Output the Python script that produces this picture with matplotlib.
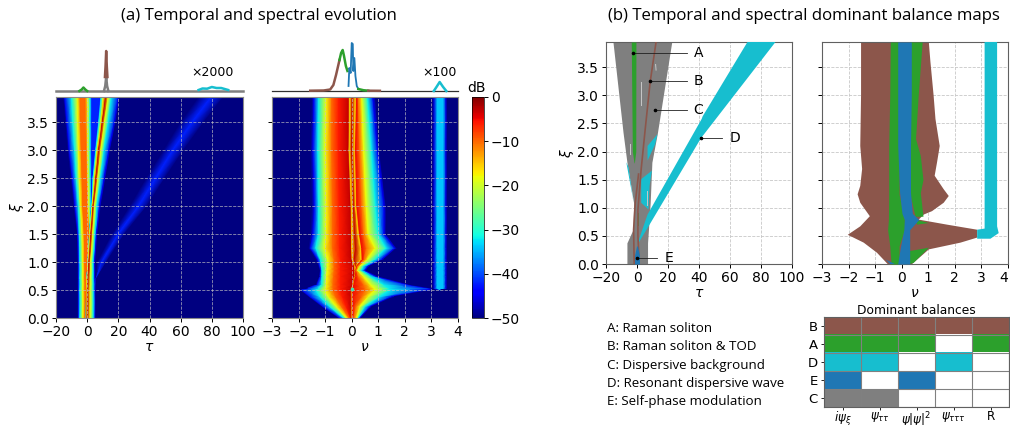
import matplotlib
matplotlib.use('Agg')
import matplotlib.pyplot as plt
import numpy as np

W, H = 1010, 425
brown, green, cyan, blue, grey = '#8c564b', '#2ca02c', '#17becf', '#1f77b4', '#7f7f7f'

# ---- (a) time map: every row gives the tau where each dB level is reached
xi_time = [0.0, 0.5, 0.7, 1.0, 1.5, 2.0, 2.5, 3.0, 3.5, 3.95]
db_time = [-50, -50, -45, -32, -18, -10, -10, -18, -32, -42, -42, -32, -18, -3, -18, -32, -45, -50, -50, -42, -50, -50]
tau_time = [
    [-20, -6.0, -5.6, -4.6, -2.8, -1.3, -0.5, -0.5, -0.5, -0.5, -0.5, -0.5, -0.5, 0.0, 2.0, 4.0, 5.2, 5.8, 5.9, 5.9, 5.9, 100],
    [-20, -6.0, -5.6, -4.6, -2.8, -1.3, -0.4, -0.4, -0.4, -0.4, -0.4, -0.4, -0.4, 0.1, 2.0, 4.0, 5.2, 5.8, 5.9, 5.9, 5.9, 100],
    [-20, -6.0, -5.6, -4.6, -2.8, -1.4, -0.1, -0.1, -0.1, -0.1, -0.1, -0.1, -0.1, 0.4, 2.1, 3.9, 5.0, 5.6, 5.6, 5.7, 5.8, 100],
    [-20, -6.0, -5.6, -4.6, -2.9, -1.5, 0.5, 0.6, 0.6, 0.6, 0.6, 0.6, 0.6, 1.2, 2.3, 3.8, 4.8, 5.5, 6.5, 9.4, 12.5, 100],
    [-20, -6.5, -6.0, -5.0, -3.2, -1.8, 1.3, 1.6, 1.6, 1.6, 1.6, 1.6, 1.6, 2.5, 3.6, 5.0, 6.0, 6.8, 16.0, 20.0, 24.0, 100],
    [-20, -8.7, -7.7, -5.6, -4.2, -2.8, 0.2, 1.0, 2.3, 3.0, 3.0, 3.0, 3.2, 3.8, 4.8, 6.3, 8.0, 9.0, 27.5, 33.0, 38.5, 100],
    [-20, -10.5, -9.5, -7.0, -5.0, -3.2, -0.2, 0.6, 2.1, 3.0, 3.6, 3.8, 4.6, 5.7, 6.9, 8.6, 11.0, 12.0, 38.0, 44.0, 50.0, 100],
    [-20, -12.5, -11.5, -8.0, -5.5, -3.7, -0.6, 0.4, 2.0, 3.0, 5.0, 5.6, 6.4, 7.4, 8.8, 10.8, 14.0, 15.0, 49.0, 55.0, 62.0, 100],
    [-20, -14.0, -13.0, -9.2, -6.0, -4.2, -1.0, 0.3, 1.9, 3.0, 7.0, 7.5, 8.8, 9.8, 11.2, 13.5, 17.5, 18.5, 60.0, 67.5, 75.0, 100],
    [-20, -15.3, -14.4, -10.0, -6.3, -4.5, -1.3, 0.2, 1.9, 3.0, 8.4, 9.0, 10.4, 11.9, 13.5, 15.5, 20.0, 21.0, 71.6, 79.6, 87.6, 100],
]

# ---- (a) spectrum map: same idea with nu
xi_spec = [0.0, 0.2, 0.38, 0.5, 0.53, 0.6, 0.75, 0.85, 0.92, 1.05, 1.25, 1.5, 2.0, 3.0, 3.95]
db_spec = [-50, -50, -45, -32, -18, -10, -6, -3, -16, -3, -16, -5, -10, -18, -32, -45, -50, -50, -46, -34, -34, -46, -50, -50]
nu_spec = [
    [-3, -0.50, -0.44, -0.29, -0.19, -0.09, -0.04, -0.02, -0.01, 0.0, 0.01, 0.02, 0.09, 0.19, 0.25, 0.31, 0.35, 3.35, 3.35, 3.35, 3.35, 3.35, 3.35, 4],
    [-3, -1.12, -1.06, -0.81, -0.56, -0.37, -0.20, -0.02, -0.01, 0.0, 0.01, 0.02, 0.16, 0.31, 0.50, 0.69, 0.75, 3.35, 3.35, 3.35, 3.35, 3.35, 3.35, 4],
    [-3, -1.62, -1.56, -1.19, -0.87, -0.60, -0.35, -0.02, -0.01, 0.0, 0.01, 0.02, 0.38, 0.62, 1.06, 1.50, 1.60, 3.35, 3.35, 3.35, 3.35, 3.35, 3.35, 4],
    [-3, -1.95, -1.88, -1.35, -1.00, -0.70, -0.42, -0.02, -0.01, 0.0, 0.01, 0.02, 0.50, 0.88, 1.44, 2.90, 3.00, 3.35, 3.35, 3.35, 3.35, 3.35, 3.35, 4],
    [-3, -1.70, -1.65, -1.25, -0.98, -0.70, -0.42, 0.0, 0.01, 0.02, 0.03, 0.04, 0.50, 0.85, 1.40, 3.00, 3.05, 3.06, 3.10, 3.22, 3.44, 3.55, 3.60, 4],
    [-3, -1.35, -1.30, -1.13, -0.96, -0.70, -0.42, 0.04, 0.05, 0.06, 0.07, 0.08, 0.44, 0.70, 1.20, 2.10, 2.20, 3.04, 3.10, 3.22, 3.44, 3.55, 3.60, 4],
    [-3, -1.22, -1.19, -1.12, -0.94, -0.68, -0.42, 0.10, 0.11, 0.12, 0.13, 0.14, 0.25, 0.44, 0.70, 0.90, 1.00, 3.04, 3.10, 3.22, 3.44, 3.55, 3.60, 4],
    [-3, -1.20, -1.17, -1.12, -0.92, -0.66, -0.42, 0.12, 0.13, 0.14, 0.15, 0.16, 0.18, 0.22, 0.38, 0.50, 0.56, 3.04, 3.10, 3.22, 3.44, 3.55, 3.60, 4],
    [-3, -1.25, -1.20, -1.14, -0.90, -0.66, -0.42, 0.09, 0.12, 0.14, 0.16, 0.18, 0.22, 0.30, 0.45, 0.60, 0.66, 3.04, 3.10, 3.22, 3.44, 3.55, 3.60, 4],
    [-3, -1.35, -1.28, -1.18, -0.90, -0.66, -0.42, -0.01, 0.02, 0.10, 0.36, 0.40, 0.48, 0.60, 0.90, 1.15, 1.22, 3.04, 3.10, 3.22, 3.44, 3.55, 3.60, 4],
    [-3, -1.62, -1.55, -1.35, -1.02, -0.72, -0.45, -0.03, 0.0, 0.15, 0.34, 0.38, 0.55, 0.88, 1.30, 1.62, 1.70, 3.04, 3.10, 3.22, 3.44, 3.55, 3.60, 4],
    [-3, -1.55, -1.45, -1.25, -0.97, -0.72, -0.45, -0.03, 0.0, 0.12, 0.25, 0.30, 0.45, 0.62, 1.00, 1.22, 1.30, 3.04, 3.10, 3.22, 3.44, 3.55, 3.60, 4],
    [-3, -1.50, -1.40, -1.25, -0.97, -0.72, -0.47, -0.05, -0.01, 0.07, 0.15, 0.20, 0.38, 0.55, 0.90, 1.22, 1.30, 3.04, 3.10, 3.22, 3.44, 3.55, 3.60, 4],
    [-3, -1.55, -1.45, -1.27, -1.00, -0.75, -0.50, -0.13, -0.09, 0.0, 0.10, 0.15, 0.30, 0.45, 0.75, 0.97, 1.05, 3.04, 3.10, 3.22, 3.44, 3.55, 3.60, 4],
    [-3, -1.50, -1.42, -1.25, -0.97, -0.75, -0.50, -0.12, -0.07, 0.02, 0.14, 0.19, 0.25, 0.38, 0.60, 0.80, 0.90, 3.04, 3.10, 3.22, 3.44, 3.55, 3.60, 4],
]

# ---- top profiles (height in arbitrary units)
tau_base = [-20, 100]
tau_green = [-5, -3.5, -2.4, -1.2, 0]
h_green = [0, 1.5, 3.5, 1.5, 0]
tau_peak = [11.4, 11.8, 12.2, 12.6, 13.0]
h_peak = [14, 25, 40, 25, 14]
tau_peak_low = [10.8, 11.6, 12.2, 12.8, 13.6]
h_peak_low = [0, 5, 14, 5, 0]
tau_dw = [71.5, 74, 77, 80, 83, 86, 90.5]
h_dw = [1, 2.5, 2.3, 4, 3, 3, 1]

nu_brown1 = [-1.56, -1.06, -0.81, -0.69, -0.59, -0.46]
h_brown1 = [0.3, 0.5, 1.5, 6, 16, 31]
nu_green1 = [-0.46, -0.40, -0.34, -0.29, -0.22, -0.16]
h_green1 = [31, 38, 41, 35, 25, 20]
nu_blue1 = [-0.12, -0.09, -0.04, 0.0, 0.04, 0.06, 0.10, 0.14, 0.19, 0.25]
h_blue1 = [5, 23, 18, 48, 47, 20, 33, 15, 5, 2]
nu_green2 = [0.25, 0.44, 0.62]
h_green2 = [2, 0.8, 0.3]
nu_brown2 = [0.62, 1.06]
h_brown2 = [0.3, 0.2]
nu_dw = [3.09, 3.19, 3.31, 3.44, 3.56]
h_dw2 = [0, 4, 9, 4, 0]

# ---- (b) time regions
bg_xi = [0, 0.376, 0.614, 1.09, 1.81, 2.34, 3.95]
bg_left = [-6.5, -6.5, -2.6, -2.2, -6.5, -9.0, -15.5]
bg_right = [6.8, 6.8, 7.4, 8.5, 9.6, 13.2, 22.4]
a_xi = [1.8, 2.0, 3.95]
a_left = [-1.9, -3.0, -3.7]
a_right = [-1.7, -0.8, -0.7]
a2_xi = [0.67, 0.91]
a2_left = [0.8, 0.8]
a2_right = [1.5, 1.5]
b_tau = [1.4, 0.6, 0.6, 2.7, 5.3, 8.5, 12.4]
b_xi = [0, 0.5, 0.97, 1.69, 2.4, 3.24, 3.97]
b2_tau = [-1.8, -2.2, -1.1, 1.0]
b2_xi = [0, 0.61, 1.09, 1.6]
e_xi = [0, 0.15, 0.32]
e_left = [-1.6, -1.6, -0.3]
e_right = [1.6, 1.6, 0.3]
d_tau = [1.0, 6.8, 41.3, 89.9, 71.7, 42.4, 41.7, 6.8, 1.6]
d_xi = [0.376, 0.64, 2.24, 3.97, 3.97, 2.63, 2.58, 0.88, 0.465]
d2_tau = [6.8, 13.2, 11.7, 6.8]
d2_xi = [2.10, 2.31, 2.13, 1.84]
d3_tau = [2.7, 9.6, 8.1, 7.4, 2.7]
d3_xi = [1.51, 1.66, 1.39, 0.97, 1.09]
d4_tau = [-6.9, -5.4, -2.2, -3.3]
d4_xi = [1.81, 1.72, 1.09, 1.27]

fleck_tau = [[2.3, 2.3], [-4.7, -4.7], [12.3, 12.0], [6.3, 6.3]]
fleck_xi = [[2.83, 3.24], [1.96, 2.14], [3.45, 3.55], [1.05, 1.3]]

labels = ['A', 'B', 'C', 'D', 'E']
lab_tau = [-2.6, 8.5, 11.9, 41.3, 0.0]
lab_xi = [3.76, 3.25, 2.74, 2.24, 0.107]
lab_end = [32, 32, 32, 54.6, 13.2]
lab_text = [36.8, 36.5, 36.5, 59.5, 17.7]

# ---- (b) spectral regions
sb_nu = [-1.53, -1.53, -1.56, -1.49, -1.56, -1.66, -1.56, -1.20, -1.56, -2.03, -1.43, -0.93, -0.53, 0.39,
         1.02, 2.21, 2.84, 2.84, 1.71, 0.64, 0.83, 1.14, 1.58, 1.77, 1.58, 1.24, 1.33, 1.43, 1.27, 1.20, 1.08, 1.02]
sb_xi = [3.95, 3.0, 2.1, 1.69, 1.39, 1.24, 1.09, 0.85, 0.67, 0.52, 0.38, 0.20, 0, 0,
         0.26, 0.38, 0.47, 0.61, 0.70, 0.79, 0.88, 0.94, 1.09, 1.21, 1.33, 1.57, 1.81, 2.1, 2.58, 3.0, 3.6, 3.95]
sg_xi = [0, 0.32, 0.61, 0.79, 1.24, 1.57, 2.1, 3.0, 3.95]
sg_left = [-0.40, -0.45, -0.53, -0.50, -0.49, -0.49, -0.49, -0.45, -0.43]
sg_right = [-0.1, -0.1, 0.1, 0.1, -0.1, -0.1, -0.1, -0.1, -0.1]
sg2_xi = [0.85, 1.27, 1.5, 1.93, 2.23, 3.0, 3.95]
sg2_left = [0.5, 0.3, 0.3, 0.3, 0.3, 0.3, 0.3]
sg2_right = [0.8, 0.7, 0.8, 0.7, 0.52, 0.62, 0.77]
sg3_nu = [0.51, 1.02, 0.58]
sg3_xi = [0.79, 0.73, 0.70]
sg4_nu = [0.30, 1.02, 0.45, 0.30]
sg4_xi = [0.23, 0.29, 0.02, 0]
se_xi = [0, 0.3, 0.61, 0.79, 0.9, 1.27, 2.1, 3.0, 3.95]
se_left = [-0.15, -0.05, 0.08, 0.10, 0.01, -0.08, -0.15, -0.15, -0.15]
se_right = [0.30, 0.30, 0.30, 0.64, 0.40, 0.33, 0.33, 0.36, 0.36]
se2_nu = [-0.61, -0.26, -0.43]
se2_xi = [0.08, 0, 0]
sd_nu = [2.84, 3.12, 3.12, 3.59, 3.59, 3.65, 3.34, 2.84]
sd_xi = [0.61, 0.63, 3.95, 3.95, 0.67, 0.55, 0.45, 0.45]

# ---- balance table
bal_rows = ['B', 'A', 'D', 'E', 'C']
bal_cols = [r'$i\psi_{\xi}$', r'$\psi_{\tau\tau}$', r'$\psi|\psi|^2$', r'$\psi_{\tau\tau\tau}$', 'R']
bal_active = [[1, 1, 1, 1, 1],
              [1, 1, 1, 0, 1],
              [1, 1, 0, 1, 0],
              [1, 0, 1, 0, 0],
              [1, 1, 0, 0, 0]]
bal_colors = [brown, green, cyan, blue, grey]
notes = ['A: Raman soliton', 'B: Raman soliton & TOD', 'C: Dispersive background',
         'D: Resonant dispersive wave', 'E: Self-phase modulation']


def box(l, t, r, b):
    return fig.add_axes([l / W, 1 - b / H, (r - l) / W, (b - t) / H])


plt.rcParams['font.size'] = 10
fig = plt.figure(figsize=(W / 100, H / 100), dpi=100)

# (a) heat maps
ax1 = box(56, 97, 243, 318)
ax2 = box(272, 97, 458, 318)
T = np.array(tau_time, dtype=float)
Y = np.repeat(np.array(xi_time)[:, None], T.shape[1], axis=1)
C = np.repeat(np.array(db_time, dtype=float)[None, :], T.shape[0], axis=0)
mesh = ax1.pcolormesh(T, Y, C, shading='gouraud', cmap='jet', vmin=-50, vmax=0)
N = np.array(nu_spec, dtype=float)
Y2 = np.repeat(np.array(xi_spec)[:, None], N.shape[1], axis=1)
C2 = np.repeat(np.array(db_spec, dtype=float)[None, :], N.shape[0], axis=0)
ax2.pcolormesh(N, Y2, C2, shading='gouraud', cmap='jet', vmin=-50, vmax=0)
ax2.scatter([0.0], [0.52], s=7, color='#40e0b0', lw=0, zorder=3)

for ax, xl, ticks, name in [(ax1, (-20, 100), range(-20, 101, 20), r'$\tau$'), (ax2, (-3, 4), range(-3, 5), r'$\nu$')]:
    ax.set_facecolor('#00007f')
    ax.set_xlim(xl)
    ax.set_ylim(0, 3.95)
    ax.set_xticks(list(ticks))
    ax.set_yticks(np.arange(0, 3.6, 0.5))
    ax.set_xlabel(name, labelpad=1)
    ax.grid(True, color='#c4c4c4', linestyle='--', linewidth=0.6, alpha=0.75)
    ax.tick_params(length=3, width=0.7, pad=2)
    for s in ax.spines.values():
        s.set_color('#8a8a8a')
ax1.set_ylabel(r'$\xi$', labelpad=1)
ax2.tick_params(labelleft=False)

cax = box(472, 97, 484, 318)
cb = fig.colorbar(mesh, cax=cax, ticks=[0, -10, -20, -30, -40, -50])
cb.ax.tick_params(length=3, width=0.7, pad=2)
cb.outline.set_linewidth(0.5)
fig.text(477 / W, 1 - 88 / H, 'dB', ha='center', va='center', fontsize=10)

# profiles above
top1 = box(56, 41, 243, 91)
top1.plot(tau_base, [0, 0], color=grey, lw=1.8)
top1.plot(tau_peak_low, h_peak_low, color=grey, lw=1.8)
top1.plot(tau_peak, h_peak, color=brown, lw=1.8)
top1.plot(tau_green, h_green, color=green, lw=1.8)
top1.plot(tau_dw, h_dw, color=cyan, lw=1.8)
top1.set_xlim(-20, 100)
top1.text(80.5, 18, '×2000', ha='center', va='center', fontsize=9)
top2 = box(272, 41, 458, 91)
top2.plot([-3, 4], [0, 0], color='#303030', lw=0.9)
top2.plot(nu_brown1, h_brown1, color=brown, lw=1.8)
top2.plot(nu_green1, h_green1, color=green, lw=1.8)
top2.plot(nu_blue1, h_blue1, color=blue, lw=1.3)
top2.plot(nu_green2, h_green2, color=green, lw=1.8)
top2.plot(nu_brown2, h_brown2, color=brown, lw=1.8)
top2.plot(nu_dw, h_dw2, color=cyan, lw=1.8)
top2.set_xlim(-3, 4)
top2.text(3.31, 18, '×100', ha='center', va='center', fontsize=9)
for ax in (top1, top2):
    ax.set_ylim(0, 50)
    ax.axis('off')
    for ln in ax.lines:
        ln.set_clip_on(False)

# (b) maps
ax3 = box(606, 42, 792, 264)
ax3.fill_betweenx(bg_xi, bg_left, bg_right, color=grey, lw=0, zorder=2)
ax3.fill_betweenx(a_xi, a_left, a_right, color=green, lw=0, zorder=3)
ax3.fill_betweenx(a2_xi, a2_left, a2_right, color=green, lw=0, zorder=3)
ax3.fill(d_tau, d_xi, color=cyan, lw=0, zorder=3)
ax3.fill(d2_tau, d2_xi, color=cyan, lw=0, zorder=3)
ax3.fill(d3_tau, d3_xi, color=cyan, lw=0, zorder=3)
ax3.fill(d4_tau, d4_xi, color=cyan, lw=0, zorder=3)
ax3.plot(b_tau, b_xi, color=brown, lw=1.2, zorder=4)
ax3.plot(b2_tau, b2_xi, color=brown, lw=1.2, zorder=4)
ax3.fill_betweenx(e_xi, e_left, e_right, color=blue, lw=0, zorder=4)
for ft, fx in zip(fleck_tau, fleck_xi):
    ax3.plot(ft, fx, color='#c8c8c8', lw=0.7, zorder=3)
for i in range(len(labels)):
    ax3.plot([lab_tau[i], lab_end[i]], [lab_xi[i], lab_xi[i]], color='#202020', lw=0.6, zorder=5)
    ax3.plot([lab_tau[i]], [lab_xi[i]], 'o', color='k', ms=1.6, zorder=5)
    ax3.text(lab_text[i], lab_xi[i], labels[i], ha='left', va='center', fontsize=10, zorder=5)
ax3.set_xlim(-20, 100)
ax3.set_xticks(range(-20, 101, 20))
ax3.set_xlabel(r'$\tau$', labelpad=1)
ax3.set_ylabel(r'$\xi$', labelpad=1)

ax4 = box(822, 42, 1008, 264)
ax4.fill(sb_nu, sb_xi, color=brown, lw=0, zorder=2)
ax4.fill_betweenx(sg_xi, sg_left, sg_right, color=green, lw=0, zorder=3)
ax4.fill_betweenx(sg2_xi, sg2_left, sg2_right, color=green, lw=0, zorder=3)
ax4.fill(sg3_nu, sg3_xi, color=green, lw=0, zorder=3)
ax4.fill(sg4_nu, sg4_xi, color=green, lw=0, zorder=3)
ax4.fill_betweenx(se_xi, se_left, se_right, color=blue, lw=0, zorder=4)
ax4.fill(se2_nu, se2_xi, color=blue, lw=0, zorder=4)
ax4.fill(sd_nu, sd_xi, color=cyan, lw=0, zorder=4)
ax4.set_xlim(-3, 4)
ax4.set_xticks(range(-3, 5))
ax4.set_xlabel(r'$\nu$', labelpad=1)
ax4.tick_params(labelleft=False)
ax4.set_xticklabels(['−3', '−2', '−1', '0', '1', '2', '3', '4'])
ax4.get_xticklabels()[-1].set_ha('right')

for ax in (ax3, ax4):
    ax.set_ylim(0, 3.95)
    ax.set_yticks(np.arange(0, 3.6, 0.5))
    ax.grid(True, color='#c8c8c8', linestyle='--', linewidth=0.6, zorder=0)
    ax.set_axisbelow(True)
    ax.tick_params(length=3, width=0.7, pad=2)
    for s in ax.spines.values():
        s.set_color('#606060')

# table of balances
tb = box(824, 317, 1009, 407)
cells = np.array(bal_active)
rgb = np.ones(cells.shape + (3,))
for r in range(cells.shape[0]):
    for c in range(cells.shape[1]):
        if cells[r][c]:
            rgb[r, c] = matplotlib.colors.to_rgb(bal_colors[r])
tb.imshow(rgb, aspect='auto', interpolation='nearest')
for r in range(cells.shape[0] + 1):
    tb.axhline(r - 0.5, color='#808080', lw=0.8)
for c in range(cells.shape[1] + 1):
    tb.axvline(c - 0.5, color='#808080', lw=0.8)
tb.set_xticks(range(5))
tb.set_xticklabels(bal_cols, fontsize=8.6)
tb.set_yticks(range(5))
tb.set_yticklabels(bal_rows, fontsize=9.5)
tb.tick_params(axis='y', length=2.5, width=0.6, pad=2)
tb.tick_params(axis='x', length=2, width=0.6, pad=0.5)
tb.set_title('Dominant balances', fontsize=8.8, pad=2)
for s in tb.spines.values():
    s.set_color('#606060')

# titles and key
fig.text(121 / W, 1 - 16 / H, '(a) Temporal and spectral evolution', ha='left', va='center',
         fontsize=12.05, family='Open Sans')
fig.text(608 / W, 1 - 16 / H, '(b) Temporal and spectral dominant balance maps', ha='left', va='center',
         fontsize=12.05, family='Open Sans')
note_y = [329, 347, 365, 384, 402]
for txt, ny in zip(notes, note_y):
    fig.text(607 / W, 1 - ny / H, txt, ha='left', va='center', fontsize=9.6, family='Open Sans')

fig.savefig('out.png', dpi=100)
